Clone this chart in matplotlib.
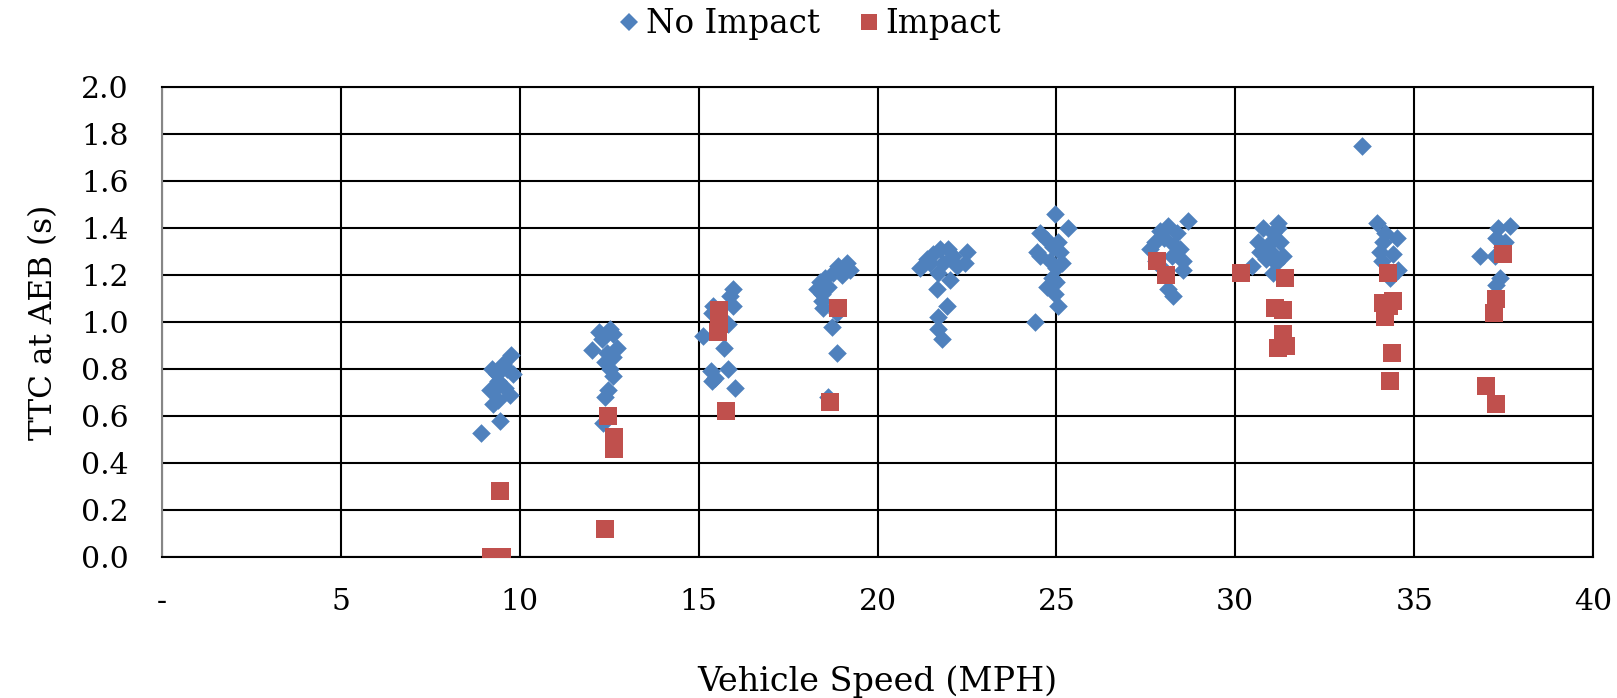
import matplotlib
matplotlib.use("Agg")
import matplotlib.pyplot as plt
from matplotlib.lines import Line2D

plt.rcParams['font.family'] = ['DejaVu Serif']

# No Impact runs (speed mph, TTC s)
no_impact_x = [8.91, 9.46, 9.26, 9.28, 9.73, 9.75, 9.80, 9.21, 9.40, 9.54, 9.39, 9.60, 9.17, 9.35, 9.65,
               12.22, 12.52, 12.61, 12.01, 12.71, 12.38, 12.61, 12.52, 12.60, 12.47, 12.38, 12.33, 12.45, 12.30,
               15.95, 15.87, 15.97, 15.41, 15.36, 15.83, 15.13, 15.72, 15.34, 15.83, 15.38, 16.01, 15.45,
               19.14, 18.90, 19.23, 18.76, 18.53, 18.39, 18.30, 18.62, 18.44, 18.48, 18.86, 18.72, 18.86, 18.62, 19.00, 18.45,
               21.20, 21.56, 21.74, 21.98, 22.49, 22.44, 22.12, 21.46, 21.84, 21.70, 22.02, 21.65, 21.93, 21.70, 21.70, 21.79, 22.21, 21.37,
               24.96, 25.33, 24.54, 24.73, 25.05, 25.10, 24.54, 24.82, 24.45, 24.87, 24.73, 25.00, 24.96, 25.05, 24.40, 25.15, 24.90, 25.00,
               28.68, 28.13, 27.89, 28.36, 27.75, 28.00, 28.45, 27.61, 28.54, 28.54, 28.24, 28.13, 28.27, 27.78, 28.30, 27.90,
               31.20, 30.78, 31.20, 31.06, 30.64, 31.25, 30.92, 30.69, 31.34, 31.00, 30.46, 31.06, 30.87, 31.15,
               33.53, 33.95, 34.18, 34.51, 34.13, 34.04, 34.41, 34.09, 34.56, 34.32,
               37.67, 37.35, 37.30, 37.53, 36.84, 37.25, 37.39, 37.30, 37.45]
no_impact_y = [0.53, 0.58, 0.65, 0.71, 0.69, 0.86, 0.78, 0.80, 0.75, 0.82, 0.67, 0.72, 0.71, 0.78, 0.80,
               0.96, 0.97, 0.95, 0.88, 0.89, 0.83, 0.85, 0.80, 0.77, 0.71, 0.68, 0.57, 0.87, 0.93,
               1.14, 1.11, 1.07, 1.07, 1.04, 0.99, 0.94, 0.89, 0.79, 0.80, 0.75, 0.72, 0.76,
               1.25, 1.24, 1.22, 1.21, 1.19, 1.17, 1.14, 1.15, 1.09, 1.06, 1.04, 0.98, 0.87, 0.68, 1.20, 1.12,
               1.23, 1.29, 1.31, 1.31, 1.30, 1.25, 1.28, 1.25, 1.25, 1.21, 1.18, 1.14, 1.07, 1.02, 0.97, 0.93, 1.24, 1.27,
               1.46, 1.40, 1.38, 1.35, 1.34, 1.30, 1.28, 1.26, 1.30, 1.19, 1.15, 1.17, 1.12, 1.07, 1.00, 1.25, 1.32, 1.23,
               1.43, 1.41, 1.39, 1.38, 1.34, 1.36, 1.31, 1.31, 1.26, 1.22, 1.28, 1.14, 1.11, 1.26, 1.33, 1.24,
               1.42, 1.40, 1.40, 1.38, 1.34, 1.34, 1.33, 1.30, 1.28, 1.30, 1.24, 1.21, 1.27, 1.25,
               1.75, 1.42, 1.38, 1.36, 1.34, 1.30, 1.29, 1.26, 1.22, 1.19,
               1.41, 1.40, 1.36, 1.34, 1.28, 1.28, 1.19, 1.16, 1.32]

# Impact runs
impact_x = [9.20, 9.50, 9.46,
            12.47, 12.63, 12.63, 12.38,
            15.58, 15.58, 15.56, 15.55, 15.76,
            18.90, 18.67,
            27.80, 28.06,
            30.15, 31.38, 31.11, 31.34, 31.34, 31.43, 31.20,
            34.27, 34.13, 34.41, 34.30, 34.18, 34.37, 34.32,
            37.47, 37.30, 37.23, 37.00, 37.28]
impact_y = [0.0, 0.0, 0.28,
            0.60, 0.51, 0.46, 0.12,
            1.05, 1.02, 0.99, 0.96, 0.62,
            1.06, 0.66,
            1.26, 1.20,
            1.21, 1.19, 1.06, 1.05, 0.95, 0.90, 0.89,
            1.21, 1.08, 1.09, 1.07, 1.02, 0.87, 0.75,
            1.29, 1.10, 1.04, 0.73, 0.65]

x_ticks = [0, 5, 10, 15, 20, 25, 30, 35, 40]
x_labels = ['-', '5', '10', '15', '20', '25', '30', '35', '40']
y_ticks = [0.0, 0.2, 0.4, 0.6, 0.8, 1.0, 1.2, 1.4, 1.6, 1.8, 2.0]

blue = '#4F81BD'
red = '#C0504D'

fig = plt.figure(figsize=(16.17, 6.98), dpi=100)
ax = fig.add_axes([0.1002, 0.202, 0.885, 0.673])

ax.scatter(no_impact_x, no_impact_y, marker='D', s=90, color=blue, linewidths=0, zorder=3)
ax.scatter(impact_x, impact_y, marker='s', s=150, color=red, linewidths=0, zorder=3)

ax.set_xlim(0, 40)
ax.set_ylim(0, 2.0)
ax.set_xticks(x_ticks)
ax.set_xticklabels(x_labels)
ax.set_yticks(y_ticks)
ax.set_yticklabels([f'{v:.1f}' for v in y_ticks])
ax.tick_params(axis='both', length=0, labelsize=21.5)
ax.tick_params(axis='x', pad=22)
ax.tick_params(axis='y', pad=24)

ax.grid(True, color='black', linewidth=1.5, zorder=1)
ax.set_axisbelow(True)
for side in ['top', 'right', 'bottom']:
    ax.spines[side].set_color('black')
    ax.spines[side].set_linewidth(1.5)
ax.spines['left'].set_color('#868686')
ax.spines['left'].set_linewidth(1.5)

ax.set_xlabel('Vehicle Speed (MPH)', fontsize=24, labelpad=36)
ax.set_ylabel('TTC at AEB (s)', fontsize=22.5, labelpad=16)

handles = [Line2D([], [], marker='D', linestyle='none', color=blue, markersize=9, markeredgewidth=0),
           Line2D([], [], marker='s', linestyle='none', color=red, markersize=11, markeredgewidth=0)]
fig.legend(handles, ['No Impact', 'Impact'], loc='upper center', bbox_to_anchor=(0.5, 1.03),
           ncol=2, frameon=False, fontsize=23.5, handletextpad=0.1, columnspacing=1.1, handlelength=0.8)

fig.savefig('out.png', dpi=100)
